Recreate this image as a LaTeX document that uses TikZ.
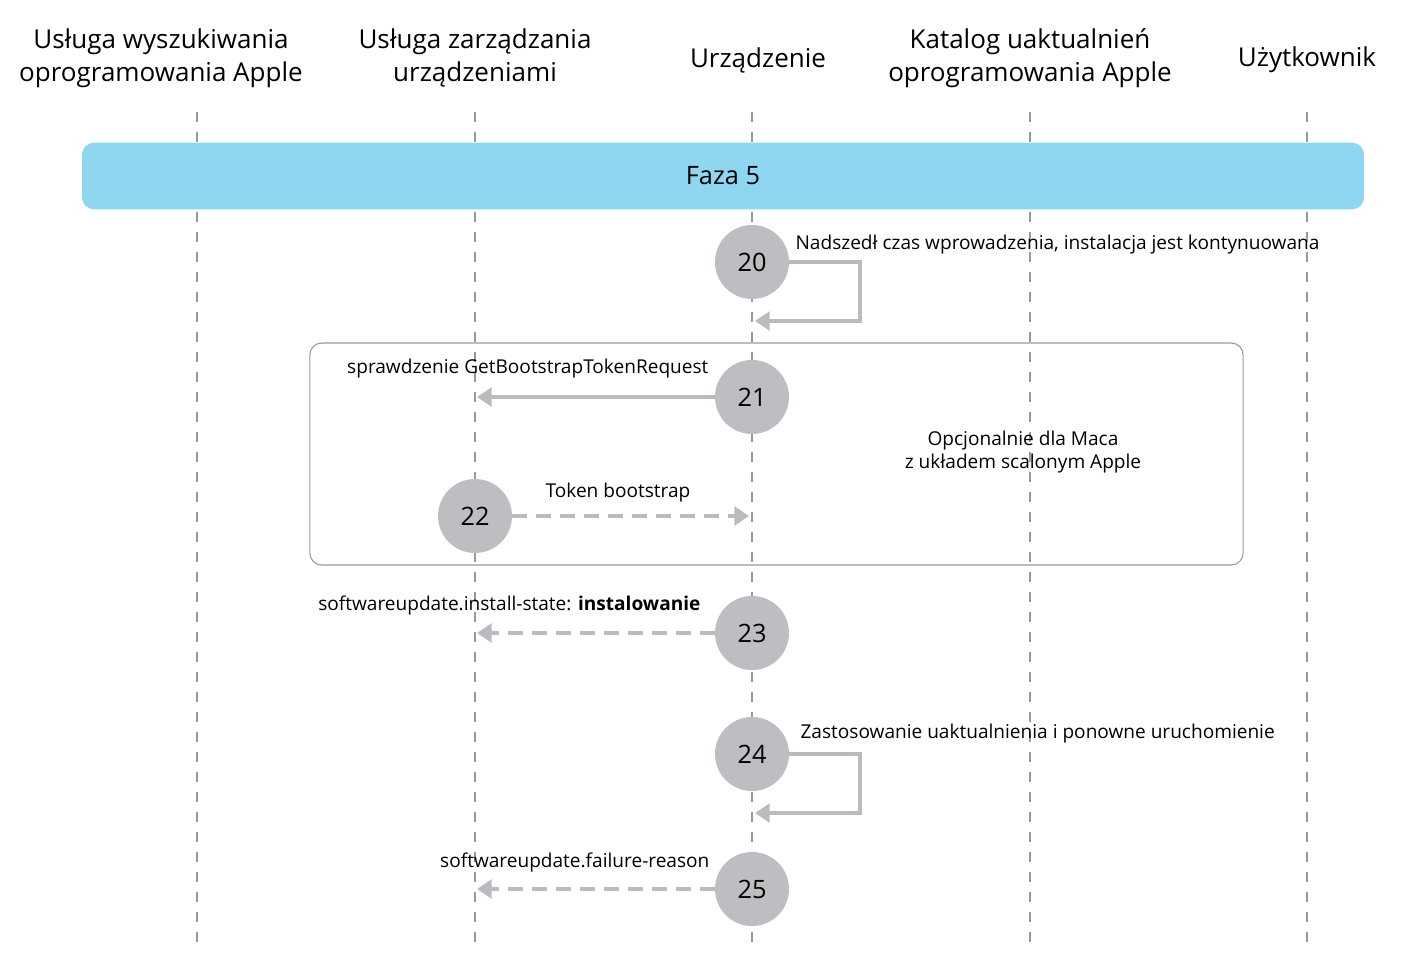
\documentclass[tikz,border=0pt]{standalone}
\usepackage{fontspec}
\setmainfont{Open Sans}
\usetikzlibrary{arrows.meta}
\definecolor{arr}{HTML}{B9BBBE}
\definecolor{circ}{HTML}{BDBEC1}
\definecolor{bar}{HTML}{8FD7F1}
\begin{document}
\begin{tikzpicture}[x=0.75pt,y=-0.75pt,
  life/.style={draw=gray!80,line width=0.8pt,dash pattern=on 7.5pt off 7.5pt},
  num/.style={circle,fill=circ,minimum size=55.5pt,inner sep=0pt,font=\fontsize{19}{22}\selectfont},
  hdr/.style={align=center,font=\fontsize{19.5}{25}\selectfont},
  lbl/.style={font=\fontsize{14.3}{17}\selectfont,inner sep=1pt},
  msg/.style={draw=arr,line width=3pt,-{Triangle[length=11pt,width=14pt]}},
  dmsg/.style={msg,dash pattern=on 11pt off 7pt}]
\useasboundingbox (0,0) rectangle (1402,963);
\node[hdr] (h1) at (161,58) {Usługa wyszukiwania\\oprogramowania Apple};
\node[hdr] (h2) at (475,58) {Usługa zarządzania\\urządzeniami};
\node[hdr] (h3) at (758,60) {Urządzenie};
\node[hdr] (h4) at (1030,58) {Katalog uaktualnień\\oprogramowania Apple};
\node[hdr] (h5) at (1307,60) {Użytkownik};
\foreach \x/\n in {197/a,475/b,752/c,1030/d,1307/e}{
  \coordinate (t\n) at (\x,112); \coordinate (b\n) at (\x,948);
  \draw[life] (t\n) -- (b\n);}
\node[fill=bar,rounded corners=9pt,minimum width=961.5pt,minimum height=50pt,font=\fontsize{19}{22}\selectfont] (ph) at (723,176) {Faza 5};
\node[draw=gray!80,line width=0.8pt,rounded corners=9pt,minimum width=700pt,minimum height=166.5pt] (box) at (776.5,454) {};
\node[align=center,lbl] (opt) at (1023,452) {Opcjonalnie dla Maca\\z układem scalonym Apple};
\node[num] (n20) at (752,262) {20};
\node[num] (n21) at (752,397) {21};
\node[num] (n22) at (475,516) {22};
\node[num] (n23) at (752,633) {23};
\node[num] (n24) at (752,754) {24};
\node[num] (n25) at (752,889) {25};
\coordinate (e20) at (755,321);
\coordinate (e24) at (755,813);
\draw[msg] (n20.east) -| (860,321) -- (e20);
\node[lbl,anchor=west] (l20) at (794,245) {Nadszedł czas wprowadzenia, instalacja jest kontynuowana};
\coordinate (e21) at (477,397);
\draw[msg] (n21.west) -- (e21);
\node[lbl,anchor=east] (l21) at (710,369) {sprawdzenie GetBootstrapTokenRequest};
\coordinate (e22) at (749,516);
\draw[dmsg] (n22.east) -- (e22);
\node[lbl] (l22) at (618,493) {Token bootstrap};
\coordinate (e23) at (477,633);
\draw[dmsg] (n23.west) -- (e23);
\node[lbl,anchor=east] (l23) at (702,605) {softwareupdate.install-state: \textbf{instalowanie}};
\draw[msg] (n24.east) -| (860,813) -- (e24);
\node[lbl,anchor=west] (l24) at (799,734) {Zastosowanie uaktualnienia i ponowne uruchomienie};
\coordinate (e25) at (477,889);
\draw[dmsg] (n25.west) -- (e25);
\node[lbl,anchor=east] (l25) at (711,862) {softwareupdate.failure-reason};
\end{tikzpicture}
\end{document}
